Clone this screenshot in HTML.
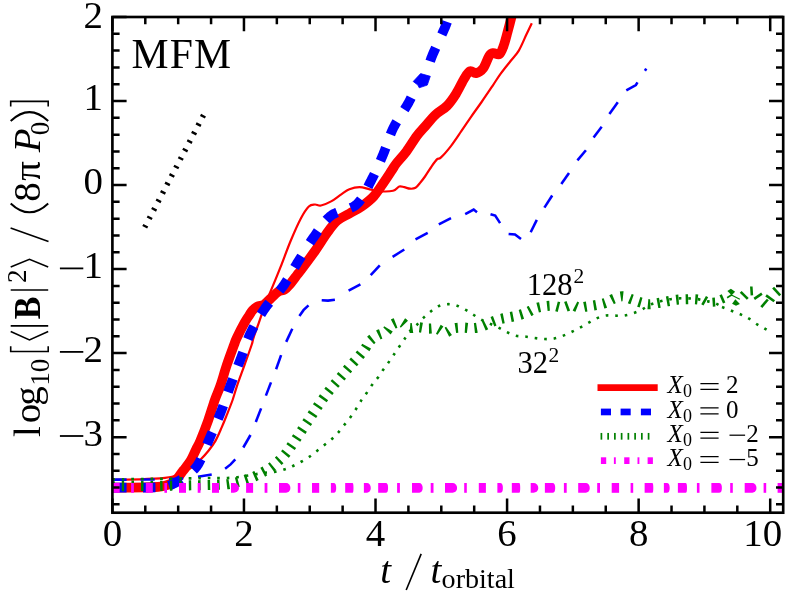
<!DOCTYPE html>
<html><head><meta charset="utf-8"><title>MFM</title>
<style>html,body{margin:0;padding:0;background:#fff;}svg{display:block;will-change:transform;font-family:"Liberation Serif",serif;}text{fill:#000;}</style></head><body>
<svg width="789" height="594" viewBox="0 0 789 594">
<rect x="0" y="0" width="789" height="594" fill="#fff"/>
<defs><clipPath id="ax"><rect x="112.40" y="17.00" width="670.80" height="495.70"/></clipPath></defs>
<clipPath id="gk"><rect x="0" y="0" width="700.30" height="600"/></clipPath>
<clipPath id="gn"><rect x="0" y="0" width="719.00" height="600"/></clipPath>
<g clip-path="url(#ax)" fill="none">
<path d="M108.00,487.60 C108.73,487.60 106.23,487.63 112.40,487.60 C118.57,487.57 137.40,487.53 145.00,487.40 C152.60,487.27 154.67,487.10 158.00,486.80 C161.33,486.50 162.83,486.12 165.00,485.60 C167.17,485.08 169.25,484.55 171.00,483.70 C172.75,482.85 174.12,481.78 175.50,480.50 C176.88,479.22 178.15,477.48 179.30,476.00 C180.45,474.52 181.42,472.90 182.40,471.60 C183.38,470.30 183.78,470.10 185.20,468.20 C186.62,466.30 189.08,463.35 190.90,460.20 C192.72,457.05 194.55,452.50 196.10,449.30 C197.65,446.10 198.18,445.83 200.20,441.00 C202.22,436.17 205.77,427.13 208.20,420.30 C210.63,413.47 212.77,405.78 214.80,400.00 C216.83,394.22 218.42,391.38 220.40,385.60 C222.38,379.82 224.43,372.07 226.70,365.30 C228.97,358.53 232.32,349.58 234.00,345.00 C235.68,340.42 235.03,341.53 236.80,337.80 C238.57,334.07 242.53,326.35 244.60,322.60 C246.67,318.85 247.87,317.35 249.20,315.30 C250.53,313.25 251.25,311.77 252.60,310.30 C253.95,308.83 255.40,307.45 257.30,306.50 C259.20,305.55 261.75,305.97 264.00,304.60 C266.25,303.23 268.42,300.47 270.80,298.30 C273.18,296.13 276.02,293.03 278.30,291.60 C280.58,290.17 282.60,290.87 284.50,289.70 C286.40,288.53 287.60,287.07 289.70,284.60 C291.80,282.13 295.27,277.27 297.10,274.90 C298.93,272.53 297.73,274.37 300.70,270.40 C303.67,266.43 310.50,257.35 314.90,251.10 C319.30,244.85 323.38,237.97 327.10,232.90 C330.82,227.83 333.48,223.92 337.20,220.70 C340.92,217.48 345.33,215.97 349.40,213.60 C353.47,211.23 357.55,209.37 361.60,206.50 C365.65,203.63 369.98,200.45 373.70,196.40 C377.42,192.35 380.85,186.60 383.90,182.20 C386.95,177.80 389.92,173.13 392.00,170.00 C394.08,166.87 393.98,166.52 396.40,163.40 C398.82,160.28 403.12,155.85 406.50,151.30 C409.88,146.75 413.62,140.23 416.70,136.10 C419.78,131.97 421.87,130.07 425.00,126.50 C428.13,122.93 431.85,118.12 435.50,114.70 C439.15,111.28 443.48,109.48 446.90,106.00 C450.32,102.52 453.10,98.38 456.00,93.80 C458.90,89.22 461.97,82.27 464.30,78.50 C466.63,74.73 468.05,72.08 470.00,71.20 C471.95,70.32 473.80,73.67 476.00,73.20 C478.20,72.73 481.00,71.30 483.20,68.40 C485.40,65.50 487.52,58.37 489.20,55.80 C490.88,53.23 491.60,53.27 493.30,53.00 C495.00,52.73 497.72,55.28 499.40,54.20 C501.08,53.12 502.05,50.15 503.40,46.50 C504.75,42.85 506.20,37.03 507.50,32.30 C508.80,27.57 510.20,22.15 511.20,18.10 C512.20,14.05 513.12,9.68 513.50,8.00" stroke="#ff0000" stroke-width="9.70" stroke-linejoin="round"/>
<path d="M108.00,479.80 C108.73,479.80 107.07,479.88 112.40,479.80 C117.73,479.72 132.90,479.48 140.00,479.30 C147.10,479.12 150.83,478.93 155.00,478.70 C159.17,478.47 162.17,478.22 165.00,477.90 C167.83,477.58 169.67,477.35 172.00,476.80 C174.33,476.25 176.67,475.63 179.00,474.60 C181.33,473.57 183.58,471.97 186.00,470.60 C188.42,469.23 191.10,468.20 193.50,466.40 C195.90,464.60 197.90,462.42 200.40,459.80 C202.90,457.18 205.97,453.90 208.50,450.70 C211.03,447.50 213.40,444.48 215.60,440.60 C217.80,436.72 219.85,431.63 221.70,427.40 C223.55,423.17 224.88,419.77 226.70,415.20 C228.52,410.63 230.87,404.93 232.60,400.00 C234.33,395.07 235.13,391.38 237.10,385.60 C239.07,379.82 241.98,372.07 244.40,365.30 C246.82,358.53 250.08,349.58 251.60,345.00 C253.12,340.42 252.28,341.53 253.50,337.80 C254.72,334.07 256.83,328.52 258.90,322.60 C260.97,316.68 263.83,307.78 265.90,302.30 C267.97,296.82 268.88,295.52 271.30,289.70 C273.72,283.88 277.18,275.52 280.40,267.40 C283.62,259.28 287.22,249.12 290.60,241.00 C293.98,232.88 297.67,224.45 300.70,218.70 C303.73,212.95 306.43,208.87 308.80,206.50 C311.17,204.13 312.87,204.67 314.90,204.50 C316.93,204.33 318.30,206.02 321.00,205.50 C323.70,204.98 327.72,203.27 331.10,201.40 C334.48,199.53 338.25,196.32 341.30,194.30 C344.35,192.28 346.37,190.48 349.40,189.30 C352.43,188.12 356.12,187.20 359.50,187.20 C362.88,187.20 366.32,188.62 369.70,189.30 C373.08,189.98 375.92,191.05 379.80,191.30 C383.68,191.55 389.77,191.60 393.00,190.80 C396.23,190.00 397.32,187.10 399.20,186.50 C401.08,185.90 402.47,186.83 404.30,187.20 C406.13,187.57 408.33,188.60 410.20,188.70 C412.07,188.80 413.77,188.88 415.50,187.80 C417.23,186.72 419.02,184.08 420.60,182.20 C422.18,180.32 423.28,178.95 425.00,176.50 C426.72,174.05 428.92,170.35 430.90,167.50 C432.88,164.65 435.22,161.08 436.90,159.40 C438.58,157.72 438.63,159.67 441.00,157.40 C443.37,155.13 447.72,150.17 451.10,145.80 C454.48,141.43 457.92,136.12 461.30,131.20 C464.68,126.28 468.02,121.17 471.40,116.30 C474.78,111.43 478.07,107.08 481.60,102.00 C485.13,96.92 489.42,90.53 492.60,85.80 C495.78,81.07 497.67,77.78 500.70,73.60 C503.73,69.42 507.78,64.53 510.80,60.70 C513.82,56.87 516.18,55.00 518.80,50.60 C521.42,46.20 524.33,38.87 526.50,34.30 C528.67,29.73 530.92,25.05 531.80,23.20" stroke="#ff0000" stroke-width="2.20" stroke-linejoin="round"/>
<path d="M113.27,487.60 L114.29,487.60 L115.46,487.60 L116.75,487.60 L118.17,487.60 L119.69,487.60 L121.30,487.60 L122.99,487.60 L124.74,487.60 L126.55,487.60" stroke="#0000ff" stroke-width="9.70" stroke-linejoin="round"/>
<path d="M143.00,487.57 L144.61,487.56 L146.12,487.55 L147.54,487.53 L148.83,487.52 L150.00,487.50 L151.06,487.48 L152.06,487.47 L152.99,487.45 L153.86,487.44 L154.68,487.43 L155.45,487.42" stroke="#0000ff" stroke-width="9.70" stroke-linejoin="round"/>
<path d="M168.73,485.77 L169.15,485.63 L169.56,485.49 L169.96,485.34 L170.36,485.18 L170.76,485.02 L171.15,484.86 L171.54,484.68 L171.93,484.51 L172.33,484.33 L172.72,484.14 L173.12,483.95 L173.52,483.75 L173.93,483.54 L174.34,483.33 L174.77,483.12 L175.20,482.90 L175.64,482.68 L176.08,482.45 L176.51,482.22 L176.95,481.98 L177.39,481.74 L177.83,481.50 L178.27,481.25 L178.71,481.00 L179.15,480.74 L179.60,480.47 L180.04,480.20 L180.49,479.93 L180.94,479.64 L181.38,479.35" stroke="#0000ff" stroke-width="9.70" stroke-linejoin="round"/>
<path d="M193.49,470.13 L194.00,469.63 L194.51,469.11 L195.01,468.57 L195.52,467.99 L196.02,467.39 L196.52,466.74 L197.02,466.07 L197.51,465.35 L198.00,464.60 L198.49,463.80 L198.97,462.96 L199.45,462.07 L199.93,461.14 L200.41,460.18 L200.89,459.18" stroke="#0000ff" stroke-width="9.70" stroke-linejoin="round"/>
<path d="M207.04,444.47 L207.51,443.31 L207.98,442.16 L208.45,441.02 L208.93,439.90 L209.40,438.80 L209.88,437.71 L210.36,436.61 L210.84,435.51 L211.32,434.41 L211.81,433.31 L212.29,432.21" stroke="#0000ff" stroke-width="9.70" stroke-linejoin="round"/>
<path d="M218.08,418.88 L218.54,417.76 L219.00,416.65 L219.46,415.54 L219.91,414.42 L220.36,413.31 L220.80,412.20 L221.23,411.09 L221.66,409.98 L222.08,408.87 L222.50,407.75 L222.91,406.64 L223.31,405.52" stroke="#0000ff" stroke-width="9.70" stroke-linejoin="round"/>
<path d="M228.00,392.16 L228.39,391.04 L228.79,389.93 L229.18,388.82 L229.58,387.71 L229.99,386.61 L230.40,385.50 L230.81,384.39 L231.23,383.29 L231.65,382.19 L232.07,381.08 L232.49,379.98 L232.91,378.88" stroke="#0000ff" stroke-width="9.70" stroke-linejoin="round"/>
<path d="M238.04,365.69 L238.47,364.59 L238.90,363.50 L239.33,362.40 L239.75,361.30 L240.18,360.20 L240.60,359.10 L241.02,358.00 L241.43,356.89 L241.84,355.79 L242.24,354.68 L242.64,353.56 L243.04,352.45" stroke="#0000ff" stroke-width="9.70" stroke-linejoin="round"/>
<path d="M247.89,339.15 L248.33,338.06 L248.78,336.98 L249.24,335.90 L249.72,334.83 L250.20,333.76 L250.70,332.70 L251.21,331.65 L251.73,330.60 L252.25,329.55 L252.78,328.51 L253.32,327.47 L253.86,326.44" stroke="#0000ff" stroke-width="9.70" stroke-linejoin="round"/>
<path d="M260.96,314.30 L261.60,313.31 L262.24,312.32 L262.90,311.34 L263.56,310.36 L264.22,309.38 L264.90,308.40 L265.59,307.43 L266.30,306.47 L267.02,305.52 L267.76,304.57 L268.52,303.63 L269.28,302.70" stroke="#0000ff" stroke-width="9.70" stroke-linejoin="round"/>
<path d="M279.62,290.69 L280.38,289.75 L281.13,288.80 L281.87,287.84 L282.59,286.88 L283.30,285.90 L283.99,284.92 L284.67,283.92 L285.33,282.92 L285.99,281.92 L286.64,280.91 L287.27,279.89" stroke="#0000ff" stroke-width="9.70" stroke-linejoin="round"/>
<path d="M294.59,267.49 L295.19,266.45 L295.80,265.41 L296.42,264.38 L297.04,263.35 L297.67,262.32 L298.30,261.30 L298.94,260.28 L299.57,259.25 L300.21,258.22 L300.85,257.19 L301.48,256.15" stroke="#0000ff" stroke-width="9.70" stroke-linejoin="round"/>
<path d="M309.87,242.78 L310.54,241.78 L311.20,240.78 L311.87,239.80 L312.54,238.82 L313.22,237.86 L313.90,236.90 L314.58,235.94 L315.25,234.98 L315.92,234.02 L316.58,233.05 L317.24,232.08 L317.90,231.12" stroke="#0000ff" stroke-width="9.70" stroke-linejoin="round"/>
<path d="M326.19,220.14 L326.95,219.32 L327.74,218.52 L328.55,217.75 L329.37,217.01 L330.23,216.29 L331.10,215.60 L332.01,214.95 L332.96,214.36 L333.96,213.81 L334.98,213.31 L336.04,212.84 L337.12,212.41" stroke="#0000ff" stroke-width="9.70" stroke-linejoin="round"/>
<path d="M350.71,207.95 L351.77,207.49 L352.79,206.98 L353.78,206.44 L354.73,205.85 L355.64,205.20 L356.50,204.50 L357.32,203.75 L358.11,202.95 L358.87,202.12 L359.60,201.26 L360.31,200.36 L360.99,199.44" stroke="#0000ff" stroke-width="9.70" stroke-linejoin="round"/>
<path d="M367.97,186.87 L368.50,185.77 L369.03,184.68 L369.56,183.60 L370.10,182.52 L370.65,181.45 L371.20,180.40 L371.75,179.35 L372.30,178.30 L372.84,177.23 L373.38,176.17 L373.91,175.10 L374.43,174.02" stroke="#0000ff" stroke-width="9.70" stroke-linejoin="round"/>
<path d="M380.40,160.89 L380.87,159.78 L381.34,158.68 L381.81,157.59 L382.28,156.49 L382.74,155.39 L383.20,154.30 L383.65,153.21 L384.09,152.11 L384.52,151.01 L384.94,149.90 L385.35,148.79 L385.76,147.69" stroke="#0000ff" stroke-width="9.70" stroke-linejoin="round"/>
<path d="M390.51,134.42 L390.94,133.33 L391.38,132.25 L391.84,131.18 L392.31,130.11 L392.80,129.05 L393.30,128.00 L393.82,126.95 L394.37,125.90 L394.93,124.86 L395.52,123.81 L396.12,122.76 L396.73,121.72" stroke="#0000ff" stroke-width="9.70" stroke-linejoin="round"/>
<path d="M404.41,109.59 L405.02,108.63 L405.61,107.68 L406.19,106.75 L406.75,105.82 L407.28,104.90 L407.80,104.00 L408.30,103.10 L408.79,102.20 L409.28,101.29 L409.75,100.38 L410.22,99.47 L410.68,98.57 L411.14,97.66" stroke="#0000ff" stroke-width="9.70" stroke-linejoin="round"/>
<path d="M430.13,61.37 L430.44,60.42 L430.77,59.46 L431.12,58.49 L431.50,57.50 L431.91,56.47 L432.36,55.38 L432.84,54.23 L433.36,53.02 L433.90,51.77 L434.47,50.49 L435.06,49.17 L435.66,47.82" stroke="#0000ff" stroke-width="9.70" stroke-linejoin="round"/>
<path d="M441.83,34.45 L442.37,33.27 L442.89,32.14 L443.37,31.07 L443.82,30.07 L444.23,29.14 L444.60,28.30 L444.93,27.52 L445.23,26.80 L445.51,26.12 L445.77,25.49 L446.00,24.90 L446.21,24.36 L446.40,23.85 L446.58,23.38 L446.73,22.95 L446.88,22.54 L447.00,22.17 L447.12,21.83" stroke="#0000ff" stroke-width="9.70" stroke-linejoin="round"/>
<path d="M413.20,81.50 L420.60,73.60 L430.30,76.30 L427.30,85.10 L419.20,87.80 L417.90,85.10 Z" fill="#0000ff" stroke="#0000ff" stroke-width="0.8" stroke-linejoin="round"/>
<path d="M112.40,479.60 L126.60,479.60" stroke="#0000ff" stroke-width="2.55"/>
<path d="M140.50,479.60 L154.70,479.50" stroke="#0000ff" stroke-width="2.55"/>
<path d="M169.00,479.30 L183.20,478.60" stroke="#0000ff" stroke-width="2.55"/>
<path d="M198.00,476.80 L211.70,474.50" stroke="#0000ff" stroke-width="2.55"/>
<path d="M225.10,468.70 L230.60,464.40 L235.30,459.30" stroke="#0000ff" stroke-width="2.55"/>
<path d="M243.30,447.50 L250.50,435.00" stroke="#0000ff" stroke-width="2.55"/>
<path d="M255.80,422.00 L261.10,408.40" stroke="#0000ff" stroke-width="2.55"/>
<path d="M265.90,395.60 L271.00,382.40" stroke="#0000ff" stroke-width="2.55"/>
<path d="M276.10,369.20 L281.10,355.10" stroke="#0000ff" stroke-width="2.55"/>
<path d="M286.20,341.90 L292.30,328.70" stroke="#0000ff" stroke-width="2.55"/>
<path d="M299.40,316.10 L303.50,310.20 L308.50,305.40" stroke="#0000ff" stroke-width="2.55"/>
<path d="M321.70,300.30 L328.00,300.60 L334.90,299.70" stroke="#0000ff" stroke-width="2.55"/>
<path d="M348.60,290.60 L360.40,284.40" stroke="#0000ff" stroke-width="2.55"/>
<path d="M370.70,275.10 L379.80,265.30" stroke="#0000ff" stroke-width="2.55"/>
<path d="M392.60,256.80 L404.30,249.50" stroke="#0000ff" stroke-width="2.55"/>
<path d="M415.50,239.40 L427.70,232.90" stroke="#0000ff" stroke-width="2.55"/>
<path d="M438.80,224.40 L451.00,218.10" stroke="#0000ff" stroke-width="2.55"/>
<path d="M465.20,214.20 L473.70,209.60 L477.00,212.20" stroke="#0000ff" stroke-width="2.55"/>
<path d="M490.50,214.20 L495.20,215.60 L500.10,223.10" stroke="#0000ff" stroke-width="2.55"/>
<path d="M508.60,234.00 L515.00,234.50 L521.00,239.00" stroke="#0000ff" stroke-width="2.55"/>
<path d="M530.70,232.20 L536.80,219.90" stroke="#0000ff" stroke-width="2.55"/>
<path d="M544.40,207.60 L552.20,195.50" stroke="#0000ff" stroke-width="2.55"/>
<path d="M561.30,184.00 L569.00,172.90" stroke="#0000ff" stroke-width="2.55"/>
<path d="M577.40,160.40 L585.90,150.30" stroke="#0000ff" stroke-width="2.55"/>
<path d="M593.60,137.50 L601.70,126.80" stroke="#0000ff" stroke-width="2.55"/>
<path d="M609.40,114.00 L617.80,102.20" stroke="#0000ff" stroke-width="2.55"/>
<path d="M626.30,90.40 L635.90,85.00 L637.50,82.40" stroke="#0000ff" stroke-width="2.55"/>
<path d="M644.90,70.80 L646.30,68.60" stroke="#0000ff" stroke-width="2.55"/>
<g clip-path="url(#gk)"><path d="M112.40,486.20 C118.67,486.17 139.57,486.10 150.00,486.00 C160.43,485.90 168.20,485.72 175.00,485.60 C181.80,485.48 186.78,485.37 190.80,485.30 C194.82,485.23 196.18,485.25 199.10,485.20 C202.02,485.15 205.25,485.07 208.30,485.00 C211.35,484.93 214.23,484.93 217.40,484.80 C220.57,484.67 224.15,484.60 227.30,484.20 C230.45,483.80 233.23,483.17 236.30,482.40 C239.37,481.63 242.62,480.62 245.70,479.60 C248.78,478.58 251.95,477.53 254.80,476.30 C257.65,475.07 260.17,473.62 262.80,472.20 C265.43,470.78 268.03,469.62 270.60,467.80 C273.17,465.98 275.80,463.53 278.20,461.30 C280.60,459.07 282.82,456.95 285.00,454.40 C287.18,451.85 288.60,449.87 291.30,446.00 C294.00,442.13 297.95,436.07 301.20,431.20 C304.45,426.33 307.60,421.60 310.80,416.80 C314.00,412.00 317.20,406.93 320.40,402.40 C323.60,397.87 326.80,393.60 330.00,389.60 C333.20,385.60 336.40,382.13 339.60,378.40 C342.80,374.67 346.00,370.85 349.20,367.20 C352.40,363.55 356.15,359.62 358.80,356.50 C361.45,353.38 363.27,351.05 365.10,348.50 C366.93,345.95 367.70,343.40 369.80,341.20 C371.90,339.00 374.97,336.90 377.70,335.30 C380.43,333.70 383.88,333.32 386.20,331.60 C388.52,329.88 389.12,326.60 391.60,325.00 C394.08,323.40 398.25,321.53 401.10,322.00 C403.95,322.47 405.88,326.93 408.70,327.80 C411.52,328.67 414.87,327.07 418.00,327.20 C421.13,327.33 424.37,328.37 427.50,328.60 C430.63,328.83 433.90,327.92 436.80,328.60 C439.70,329.28 442.20,332.70 444.90,332.70 C447.60,332.70 449.95,329.45 453.00,328.60 C456.05,327.75 459.98,327.67 463.20,327.60 C466.42,327.53 469.27,328.37 472.30,328.20 C475.33,328.03 478.37,327.55 481.40,326.60 C484.43,325.65 487.62,323.68 490.50,322.50 C493.38,321.32 495.82,320.33 498.70,319.50 C501.58,318.67 504.60,318.18 507.80,317.50 C511.00,316.82 514.68,316.25 517.90,315.40 C521.12,314.55 524.22,313.57 527.10,312.40 C529.98,311.23 532.33,309.40 535.20,308.40 C538.07,307.40 541.25,306.83 544.30,306.40 C547.35,305.97 550.45,305.62 553.50,305.80 C556.55,305.98 559.57,307.63 562.60,307.50 C565.63,307.37 569.00,305.00 571.70,305.00 C574.40,305.00 576.27,307.27 578.80,307.50 C581.33,307.73 584.02,306.82 586.90,306.40 C589.78,305.98 593.05,305.57 596.10,305.00 C599.15,304.43 602.33,304.02 605.20,303.00 C608.07,301.98 610.43,300.02 613.30,298.90 C616.17,297.78 619.35,296.23 622.40,296.30 C625.45,296.37 628.58,298.28 631.60,299.30 C634.62,300.32 637.60,301.58 640.50,302.40 C643.40,303.22 645.98,304.12 649.00,304.20 C652.02,304.28 655.47,303.40 658.60,302.90 C661.73,302.40 664.75,301.73 667.80,301.20 C670.85,300.67 673.90,300.02 676.90,299.70 C679.90,299.38 682.80,299.37 685.80,299.30 C688.80,299.23 691.87,299.12 694.90,299.30 C697.93,299.48 700.95,300.05 704.00,300.40 C707.05,300.75 710.15,301.58 713.20,301.40 C716.25,301.22 719.43,300.65 722.30,299.30 C725.17,297.95 728.20,292.95 730.40,293.30 C732.60,293.65 733.30,301.07 735.50,301.40 C737.70,301.73 740.90,297.00 743.60,295.30 C746.30,293.60 749.33,291.03 751.70,291.20 C754.07,291.37 755.77,294.43 757.80,296.30 C759.83,298.17 761.87,302.23 763.90,302.40 C765.93,302.57 767.98,299.17 770.00,297.30 C772.02,295.43 774.33,292.72 776.00,291.20 C777.67,289.68 778.33,289.23 780.00,288.20 C781.67,287.17 785.00,285.53 786.00,285.00" stroke="#008000" stroke-width="10.10" stroke-dasharray="2.5 7.03" stroke-dashoffset="0.00"/></g>
<path d="M702.36,304.79 L707.08,296.53" stroke="#008000" stroke-width="2.6"/>
<path d="M714.15,306.56 L713.56,297.71" stroke="#008000" stroke-width="2.6"/>
<path d="M724.17,303.02 L720.64,294.76" stroke="#008000" stroke-width="2.6"/>
<path d="M740.68,291.82 L747.76,298.89" stroke="#008000" stroke-width="2.6"/>
<path d="M751.30,286.51 L751.89,295.35" stroke="#008000" stroke-width="2.6"/>
<path d="M754.25,298.89 L761.91,293.58" stroke="#008000" stroke-width="2.6"/>
<path d="M761.32,307.15 L767.81,299.48" stroke="#008000" stroke-width="2.6"/>
<path d="M766.04,295.35 L774.29,301.25" stroke="#008000" stroke-width="2.6"/>
<path d="M773.11,287.69 L780.19,295.35" stroke="#008000" stroke-width="2.6"/>
<path d="M727.12,297.71 L731.84,294.76" stroke="#008000" stroke-width="1.60"/>
<path d="M730.90,294.76 L739.86,299.25" stroke="#008000" stroke-width="1.20"/>
<path d="M727.36,290.99 L730.90,288.87 L735.14,291.82 L731.60,295.35 Z" fill="#008000"/>
<path d="M735.38,299.25 L739.86,303.96 L735.97,305.73 L732.08,303.84 Z" fill="#008000"/>
<g clip-path="url(#gn)"><path d="M112.40,479.30 C120.33,479.22 147.22,478.95 160.00,478.80 C172.78,478.65 181.05,478.53 189.10,478.40 C197.15,478.27 203.48,478.05 208.30,478.00 C213.12,477.95 214.78,478.10 218.00,478.10 C221.22,478.10 224.40,478.15 227.60,478.00 C230.80,477.85 234.07,477.57 237.20,477.20 C240.33,476.83 243.37,476.28 246.40,475.80 C249.43,475.32 252.38,474.82 255.40,474.30 C258.42,473.78 261.33,473.10 264.50,472.70 C267.67,472.30 271.10,472.43 274.40,471.90 C277.70,471.37 281.28,470.45 284.30,469.50 C287.32,468.55 289.77,467.45 292.50,466.20 C295.23,464.95 298.03,463.47 300.70,462.00 C303.37,460.53 306.02,459.07 308.50,457.40 C310.98,455.73 313.08,453.97 315.60,452.00 C318.12,450.03 320.93,447.73 323.60,445.60 C326.27,443.47 329.20,441.33 331.60,439.20 C334.00,437.07 335.87,435.20 338.00,432.80 C340.13,430.40 342.27,427.47 344.40,424.80 C346.53,422.13 348.67,419.73 350.80,416.80 C352.93,413.87 355.33,410.13 357.20,407.20 C359.07,404.27 360.40,401.60 362.00,399.20 C363.60,396.80 364.93,395.47 366.80,392.80 C368.67,390.13 371.33,385.75 373.20,383.20 C375.07,380.65 376.37,379.70 378.00,377.50 C379.63,375.30 381.32,372.40 383.00,370.00 C384.68,367.60 386.40,365.50 388.10,363.10 C389.80,360.70 391.43,358.20 393.20,355.60 C394.97,353.00 396.85,350.20 398.70,347.50 C400.55,344.80 402.35,342.22 404.30,339.40 C406.25,336.58 408.37,332.97 410.40,330.60 C412.43,328.23 414.40,327.27 416.50,325.20 C418.60,323.13 420.77,320.37 423.00,318.20 C425.23,316.03 427.45,314.15 429.90,312.20 C432.35,310.25 434.87,307.83 437.70,306.50 C440.53,305.17 443.83,304.40 446.90,304.20 C449.97,304.00 453.05,304.38 456.10,305.30 C459.15,306.22 462.40,308.18 465.20,309.70 C468.00,311.22 470.30,312.77 472.90,314.40 C475.50,316.03 478.03,317.98 480.80,319.50 C483.57,321.02 486.58,322.15 489.50,323.50 C492.42,324.85 495.42,326.17 498.30,327.60 C501.18,329.03 503.87,330.75 506.80,332.10 C509.73,333.45 512.87,334.97 515.90,335.70 C518.93,336.43 521.95,336.12 525.00,336.50 C528.05,336.88 531.15,337.60 534.20,338.00 C537.25,338.40 540.25,338.75 543.30,338.90 C546.35,339.05 549.45,339.33 552.50,338.90 C555.55,338.47 558.57,337.38 561.60,336.30 C564.63,335.22 567.77,333.77 570.70,332.40 C573.63,331.03 576.32,329.65 579.20,328.10 C582.08,326.55 585.18,324.68 588.00,323.10 C590.82,321.52 593.23,319.85 596.10,318.60 C598.97,317.35 602.17,316.10 605.20,315.60 C608.23,315.10 611.27,315.60 614.30,315.60 C617.33,315.60 620.38,315.95 623.40,315.60 C626.42,315.25 629.38,314.47 632.40,313.50 C635.42,312.53 638.62,311.25 641.50,309.80 C644.38,308.35 646.82,306.13 649.70,304.80 C652.58,303.47 655.77,302.67 658.80,301.80 C661.83,300.93 664.77,300.17 667.90,299.60 C671.03,299.03 674.47,298.62 677.60,298.40 C680.73,298.18 683.57,298.22 686.70,298.30 C689.83,298.38 693.35,298.48 696.40,298.90 C699.45,299.32 702.05,300.15 705.00,300.80 C707.95,301.45 711.07,301.70 714.10,302.80 C717.13,303.90 720.15,306.02 723.20,307.40 C726.25,308.78 729.50,309.90 732.40,311.10 C735.30,312.30 737.82,313.35 740.60,314.60 C743.38,315.85 746.33,316.98 749.10,318.60 C751.87,320.22 754.50,322.60 757.20,324.30 C759.90,326.00 763.95,328.05 765.30,328.80" stroke="#008000" stroke-width="2.60" stroke-dasharray="2.6 6.93" stroke-dashoffset="0.00"/></g>
<rect x="721.93" y="306.20" width="2.6" height="2.6" fill="#008000" transform="rotate(20.0 723.23 307.50)"/>
<rect x="730.78" y="309.74" width="2.6" height="2.6" fill="#008000" transform="rotate(22.0 732.08 311.04)"/>
<rect x="739.62" y="313.28" width="2.6" height="2.6" fill="#008000" transform="rotate(24.0 740.92 314.58)"/>
<rect x="747.99" y="317.40" width="2.6" height="2.6" fill="#008000" transform="rotate(30.0 749.29 318.70)"/>
<rect x="755.89" y="323.18" width="2.6" height="2.6" fill="#008000" transform="rotate(33.0 757.19 324.48)"/>
<rect x="764.15" y="327.66" width="2.6" height="2.6" fill="#008000" transform="rotate(30.0 765.45 328.96)"/>
<rect x="112.40" y="483.00" width="7.30" height="9.80" fill="#ff00ff"/>
<rect x="131.10" y="483.00" width="2.80" height="9.80" fill="#ff00ff"/>
<rect x="145.80" y="483.00" width="7.00" height="9.80" fill="#ff00ff"/>
<rect x="164.40" y="483.00" width="2.60" height="9.80" fill="#ff00ff"/>
<rect x="179.00" y="483.00" width="7.00" height="9.80" fill="#ff00ff"/>
<rect x="197.70" y="483.00" width="2.80" height="9.80" fill="#ff00ff"/>
<rect x="212.00" y="483.00" width="7.00" height="9.80" fill="#ff00ff"/>
<path d="M231.00,483.00 H233.90 A5.10,4.90 0 0 1 233.90,492.80 H231.00 Z" fill="#ff00ff"/>
<rect x="246.10" y="483.00" width="7.00" height="9.80" fill="#ff00ff"/>
<rect x="264.60" y="483.00" width="2.80" height="9.80" fill="#ff00ff"/>
<path d="M279.00,483.00 H286.10 A4.30,4.90 0 0 1 286.10,492.80 H279.00 Z" fill="#ff00ff"/>
<rect x="297.80" y="483.00" width="2.60" height="9.80" fill="#ff00ff"/>
<rect x="312.00" y="483.00" width="7.20" height="9.80" fill="#ff00ff"/>
<path d="M330.90,483.00 H333.70 A2.50,4.90 0 0 1 333.70,492.80 H330.90 Z" fill="#ff00ff"/>
<path d="M345.20,483.00 H352.50 A1.00,4.90 0 0 1 352.50,492.80 H345.20 Z" fill="#ff00ff"/>
<path d="M363.90,483.00 H367.00 A3.80,4.90 0 0 1 367.00,492.80 H363.90 Z" fill="#ff00ff"/>
<path d="M378.20,483.00 H385.80 A2.30,4.90 0 0 1 385.80,492.80 H378.20 Z" fill="#ff00ff"/>
<rect x="397.10" y="483.00" width="2.80" height="9.80" fill="#ff00ff"/>
<path d="M412.00,483.00 H419.30 A3.40,4.90 0 0 1 419.30,492.80 H412.00 Z" fill="#ff00ff"/>
<rect x="430.70" y="483.00" width="2.80" height="9.80" fill="#ff00ff"/>
<path d="M445.00,483.00 H452.60 A4.50,4.90 0 0 1 452.60,492.80 H445.00 Z" fill="#ff00ff"/>
<rect x="464.20" y="483.00" width="2.60" height="9.80" fill="#ff00ff"/>
<rect x="478.80" y="483.00" width="7.10" height="9.80" fill="#ff00ff"/>
<path d="M497.40,483.00 H500.20 A2.70,4.90 0 0 1 500.20,492.80 H497.40 Z" fill="#ff00ff"/>
<path d="M511.80,483.00 H519.20 A1.00,4.90 0 0 1 519.20,492.80 H511.80 Z" fill="#ff00ff"/>
<path d="M530.70,483.00 H533.60 A4.70,4.90 0 0 1 533.60,492.80 H530.70 Z" fill="#ff00ff"/>
<path d="M544.90,483.00 H552.50 A2.70,4.90 0 0 1 552.50,492.80 H544.90 Z" fill="#ff00ff"/>
<rect x="563.90" y="483.00" width="2.80" height="9.80" fill="#ff00ff"/>
<path d="M578.20,483.00 H585.80 A4.00,4.90 0 0 1 585.80,492.80 H578.20 Z" fill="#ff00ff"/>
<rect x="597.20" y="483.00" width="2.80" height="9.80" fill="#ff00ff"/>
<rect x="611.70" y="483.00" width="7.40" height="9.80" fill="#ff00ff"/>
<rect x="630.60" y="483.00" width="2.60" height="9.80" fill="#ff00ff"/>
<path d="M644.60,483.00 H652.30 A1.00,4.90 0 0 1 652.30,492.80 H644.60 Z" fill="#ff00ff"/>
<path d="M663.90,483.00 H666.80 A2.90,4.90 0 0 1 666.80,492.80 H663.90 Z" fill="#ff00ff"/>
<path d="M677.90,483.00 H685.70 A1.30,4.90 0 0 1 685.70,492.80 H677.90 Z" fill="#ff00ff"/>
<rect x="696.90" y="483.00" width="2.60" height="9.80" fill="#ff00ff"/>
<path d="M711.40,483.00 H719.00 A2.90,4.90 0 0 1 719.00,492.80 H711.40 Z" fill="#ff00ff"/>
<rect x="730.20" y="483.00" width="2.60" height="9.80" fill="#ff00ff"/>
<path d="M744.70,483.00 H752.30 A4.20,4.90 0 0 1 752.30,492.80 H744.70 Z" fill="#ff00ff"/>
<rect x="763.60" y="483.00" width="2.60" height="9.80" fill="#ff00ff"/>
<rect x="777.60" y="483.00" width="8.40" height="9.80" fill="#ff00ff"/>
<path d="M144.70,227.30 L203.70,114.80" stroke="#000" stroke-width="5.5" stroke-dasharray="2.4 7.16"/>
</g>
<g stroke="#000" fill="none">
<path d="M112.40,512.70 v-14.20 M112.40,17.00 v14.20" stroke-width="2.50"/>
<path d="M145.29,512.70 v-7.20 M145.29,17.00 v7.20" stroke-width="2.50"/>
<path d="M178.18,512.70 v-7.20 M178.18,17.00 v7.20" stroke-width="2.50"/>
<path d="M211.07,512.70 v-7.20 M211.07,17.00 v7.20" stroke-width="2.50"/>
<path d="M243.96,512.70 v-14.20 M243.96,17.00 v14.20" stroke-width="2.50"/>
<path d="M276.85,512.70 v-7.20 M276.85,17.00 v7.20" stroke-width="2.50"/>
<path d="M309.74,512.70 v-7.20 M309.74,17.00 v7.20" stroke-width="2.50"/>
<path d="M342.63,512.70 v-7.20 M342.63,17.00 v7.20" stroke-width="2.50"/>
<path d="M375.52,512.70 v-14.20 M375.52,17.00 v14.20" stroke-width="2.50"/>
<path d="M408.41,512.70 v-7.20 M408.41,17.00 v7.20" stroke-width="2.50"/>
<path d="M441.30,512.70 v-7.20 M441.30,17.00 v7.20" stroke-width="2.50"/>
<path d="M474.19,512.70 v-7.20 M474.19,17.00 v7.20" stroke-width="2.50"/>
<path d="M507.08,512.70 v-14.20 M507.08,17.00 v14.20" stroke-width="2.50"/>
<path d="M539.97,512.70 v-7.20 M539.97,17.00 v7.20" stroke-width="2.50"/>
<path d="M572.86,512.70 v-7.20 M572.86,17.00 v7.20" stroke-width="2.50"/>
<path d="M605.75,512.70 v-7.20 M605.75,17.00 v7.20" stroke-width="2.50"/>
<path d="M638.64,512.70 v-14.20 M638.64,17.00 v14.20" stroke-width="2.50"/>
<path d="M671.53,512.70 v-7.20 M671.53,17.00 v7.20" stroke-width="2.50"/>
<path d="M704.42,512.70 v-7.20 M704.42,17.00 v7.20" stroke-width="2.50"/>
<path d="M737.31,512.70 v-7.20 M737.31,17.00 v7.20" stroke-width="2.50"/>
<path d="M770.20,512.70 v-14.20 M770.20,17.00 v14.20" stroke-width="2.50"/>
<path d="M112.40,504.37 h7.20 M783.20,504.37 h-7.20" stroke-width="2.50"/>
<path d="M112.40,487.57 h7.20 M783.20,487.57 h-7.20" stroke-width="2.50"/>
<path d="M112.40,470.76 h7.20 M783.20,470.76 h-7.20" stroke-width="2.50"/>
<path d="M112.40,453.96 h7.20 M783.20,453.96 h-7.20" stroke-width="2.50"/>
<path d="M112.40,437.15 h14.20 M783.20,437.15 h-14.20" stroke-width="2.50"/>
<path d="M112.40,420.34 h7.20 M783.20,420.34 h-7.20" stroke-width="2.50"/>
<path d="M112.40,403.54 h7.20 M783.20,403.54 h-7.20" stroke-width="2.50"/>
<path d="M112.40,386.73 h7.20 M783.20,386.73 h-7.20" stroke-width="2.50"/>
<path d="M112.40,369.93 h7.20 M783.20,369.93 h-7.20" stroke-width="2.50"/>
<path d="M112.40,353.12 h14.20 M783.20,353.12 h-14.20" stroke-width="2.50"/>
<path d="M112.40,336.31 h7.20 M783.20,336.31 h-7.20" stroke-width="2.50"/>
<path d="M112.40,319.51 h7.20 M783.20,319.51 h-7.20" stroke-width="2.50"/>
<path d="M112.40,302.70 h7.20 M783.20,302.70 h-7.20" stroke-width="2.50"/>
<path d="M112.40,285.90 h7.20 M783.20,285.90 h-7.20" stroke-width="2.50"/>
<path d="M112.40,269.09 h14.20 M783.20,269.09 h-14.20" stroke-width="2.50"/>
<path d="M112.40,252.28 h7.20 M783.20,252.28 h-7.20" stroke-width="2.50"/>
<path d="M112.40,235.48 h7.20 M783.20,235.48 h-7.20" stroke-width="2.50"/>
<path d="M112.40,218.67 h7.20 M783.20,218.67 h-7.20" stroke-width="2.50"/>
<path d="M112.40,201.87 h7.20 M783.20,201.87 h-7.20" stroke-width="2.50"/>
<path d="M112.40,185.06 h14.20 M783.20,185.06 h-14.20" stroke-width="2.50"/>
<path d="M112.40,168.25 h7.20 M783.20,168.25 h-7.20" stroke-width="2.50"/>
<path d="M112.40,151.45 h7.20 M783.20,151.45 h-7.20" stroke-width="2.50"/>
<path d="M112.40,134.64 h7.20 M783.20,134.64 h-7.20" stroke-width="2.50"/>
<path d="M112.40,117.84 h7.20 M783.20,117.84 h-7.20" stroke-width="2.50"/>
<path d="M112.40,101.03 h14.20 M783.20,101.03 h-14.20" stroke-width="2.50"/>
<path d="M112.40,84.22 h7.20 M783.20,84.22 h-7.20" stroke-width="2.50"/>
<path d="M112.40,67.42 h7.20 M783.20,67.42 h-7.20" stroke-width="2.50"/>
<path d="M112.40,50.61 h7.20 M783.20,50.61 h-7.20" stroke-width="2.50"/>
<path d="M112.40,33.81 h7.20 M783.20,33.81 h-7.20" stroke-width="2.50"/>
<path d="M112.40,17.00 h14.20 M783.20,17.00 h-14.20" stroke-width="2.50"/>
<rect x="112.40" y="17.00" width="670.80" height="495.70" stroke-width="2.65"/>
</g>
<g font-size="38.9" text-anchor="middle">
<text x="112.40" y="545.60">0</text>
<text x="243.96" y="545.60">2</text>
<text x="375.52" y="545.60">4</text>
<text x="507.08" y="545.60">6</text>
<text x="638.64" y="545.60">8</text>
<text x="762.80" y="545.60">10</text>
</g>
<g font-size="38.9" text-anchor="end">
<text x="103.00" y="27.90">2</text>
<text x="103.00" y="110.10">1</text>
<text x="103.00" y="194.40">0</text>
<text x="103.00" y="278.40">1</text>
<path d="M59.9,268.40 H83.3" stroke="#000" stroke-width="1.8" fill="none"/>
<text x="103.00" y="361.90">2</text>
<path d="M59.9,351.90 H83.3" stroke="#000" stroke-width="1.8" fill="none"/>
<text x="103.00" y="446.00">3</text>
<path d="M59.9,436.00 H83.3" stroke="#000" stroke-width="1.8" fill="none"/>
</g>
<text x="131.4" y="68.1" font-size="41.7" textLength="99.8">MFM</text>
<text x="526.7" y="294.6" font-size="30.5">128</text>
<text x="573.6" y="283.4" font-size="21.4">2</text>
<text x="517.4" y="372.7" font-size="30.5">32</text>
<text x="548.6" y="361.7" font-size="21.4">2</text>
<text x="667.6" y="393.30" font-size="25.0" font-style="italic">X</text>
<text x="683.0" y="397.20" font-size="18.0">0</text>
<path d="M700.4,383.60 H718.6 M700.4,389.40 H718.6" stroke="#000" stroke-width="1.25" fill="none"/>
<text x="726.0" y="393.30" font-size="25.0">2</text>
<text x="667.6" y="417.65" font-size="25.0" font-style="italic">X</text>
<text x="683.0" y="421.55" font-size="18.0">0</text>
<path d="M700.4,407.95 H718.6 M700.4,413.75 H718.6" stroke="#000" stroke-width="1.25" fill="none"/>
<text x="726.0" y="417.65" font-size="25.0">0</text>
<text x="667.6" y="442.00" font-size="25.0" font-style="italic">X</text>
<text x="683.0" y="445.90" font-size="18.0">0</text>
<path d="M700.4,432.30 H718.6 M700.4,438.10 H718.6" stroke="#000" stroke-width="1.25" fill="none"/>
<path d="M729.5,435.20 H745.1" stroke="#000" stroke-width="1.25" fill="none"/>
<text x="746.2" y="442.00" font-size="25.0">2</text>
<text x="667.6" y="466.35" font-size="25.0" font-style="italic">X</text>
<text x="683.0" y="470.25" font-size="18.0">0</text>
<path d="M700.4,456.65 H718.6 M700.4,462.45 H718.6" stroke="#000" stroke-width="1.25" fill="none"/>
<path d="M729.5,459.55 H745.1" stroke="#000" stroke-width="1.25" fill="none"/>
<text x="746.2" y="466.35" font-size="25.0">5</text>
<path d="M597.5,387.60 H657.7" stroke="#ff0000" stroke-width="6.70" fill="none"/>
<rect x="600.90" y="408.60" width="10.10" height="6.70" fill="#0000ff"/>
<rect x="620.60" y="408.60" width="10.10" height="6.70" fill="#0000ff"/>
<rect x="640.90" y="408.60" width="10.10" height="6.70" fill="#0000ff"/>
<rect x="600.55" y="432.95" width="1.7" height="6.70" fill="#008000"/>
<rect x="607.29" y="432.95" width="1.7" height="6.70" fill="#008000"/>
<rect x="614.03" y="432.95" width="1.7" height="6.70" fill="#008000"/>
<rect x="620.77" y="432.95" width="1.7" height="6.70" fill="#008000"/>
<rect x="627.51" y="432.95" width="1.7" height="6.70" fill="#008000"/>
<rect x="634.25" y="432.95" width="1.7" height="6.70" fill="#008000"/>
<rect x="640.99" y="432.95" width="1.7" height="6.70" fill="#008000"/>
<rect x="647.73" y="432.95" width="1.7" height="6.70" fill="#008000"/>
<rect x="600.90" y="457.30" width="5.30" height="6.70" fill="#ff00ff"/>
<rect x="613.90" y="457.30" width="1.90" height="6.70" fill="#ff00ff"/>
<rect x="624.20" y="457.30" width="5.30" height="6.70" fill="#ff00ff"/>
<rect x="637.50" y="457.30" width="1.90" height="6.70" fill="#ff00ff"/>
<rect x="647.60" y="457.30" width="5.30" height="6.70" fill="#ff00ff"/>
<text x="380.3" y="582.9" font-size="38.9" font-style="italic">t</text>
<path d="M406.2,590.0 L421.2,553.9" stroke="#000" stroke-width="1.6" fill="none"/>
<text x="430.5" y="582.9" font-size="38.9" font-style="italic">t</text>
<text x="441.6" y="587.6" font-size="28.1">orbital</text>
<g transform="translate(40.2,436.2) rotate(-90)">
<text x="-0.7" y="0" font-size="38.9">l</text>
<text x="12.9" y="0" font-size="38.9">o</text>
<text x="30.4" y="0" font-size="38.9">g</text>
<text x="50.4" y="8.4" font-size="27.2">10</text>
<path d="M89.9,-29.50 H84.7 V8.00 H89.9" stroke="#000" stroke-width="1.60" fill="none"/>
<path d="M104.8,-29.50 L96.3,-10.75 L104.8,8.00" stroke="#000" stroke-width="1.60" fill="none"/>
<path d="M110.3,-29.50 V8.00" stroke="#000" stroke-width="1.60" fill="none"/>
<text x="117.0" y="0" font-size="38.9" font-weight="bold" textLength="22.6" lengthAdjust="spacingAndGlyphs">B</text>
<path d="M146.2,-29.50 V8.00" stroke="#000" stroke-width="1.60" fill="none"/>
<text x="153.3" y="-14.1" font-size="27.2">2</text>
<path d="M169.1,-29.50 L176.9,-10.75 L169.1,8.00" stroke="#000" stroke-width="1.60" fill="none"/>
<path d="M194.7,8.30 L208.3,-29.60" stroke="#000" stroke-width="1.60" fill="none"/>
<path d="M232.8,-29.50 Q215.0,-10.75 232.8,8.00" stroke="#000" stroke-width="2.00" fill="none"/>
<text x="234.5" y="0" font-size="38.9">8</text>
<text x="255.5" y="0" font-size="38.9">π</text>
<text x="284.0" y="0" font-size="38.9" font-style="italic">P</text>
<text x="300.9" y="8.4" font-size="27.2">0</text>
<path d="M315.2,-29.50 Q333.0,-10.75 315.2,8.00" stroke="#000" stroke-width="2.00" fill="none"/>
<path d="M329.6,-29.50 H334.8 V8.00 H329.6" stroke="#000" stroke-width="1.60" fill="none"/>
</g>
</svg></body></html>
